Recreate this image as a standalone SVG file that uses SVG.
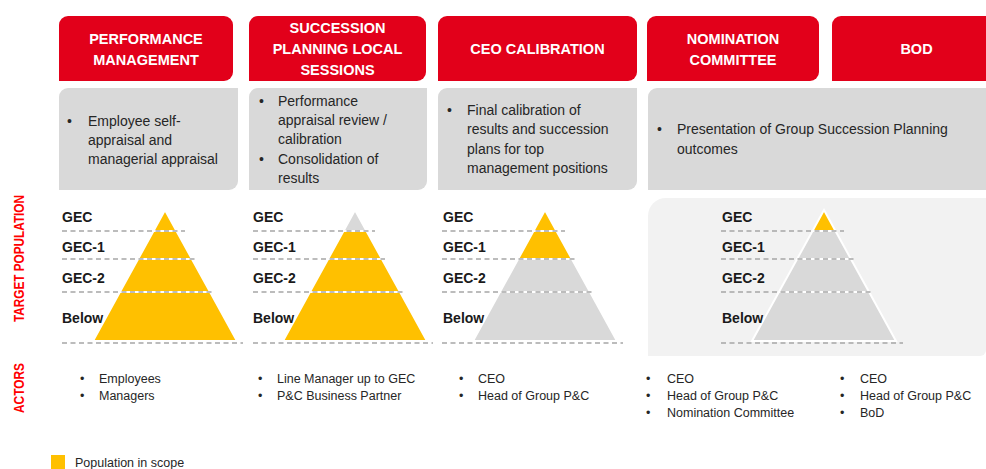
<svg xmlns="http://www.w3.org/2000/svg" xmlns:xlink="http://www.w3.org/1999/xlink" width="986" height="469" viewBox="0 0 986 469">
<style>
.hdr{fill:#E2001A}
.hdrt{font-family:"Liberation Sans",Arial,sans-serif;font-weight:bold;font-size:14.5px;fill:#fff;text-anchor:middle}
.box{fill:#D9D9D9}
.bt{font-family:"Liberation Sans",Arial,sans-serif;font-size:14px;fill:#262626}
.lvl{font-family:"Liberation Sans",Arial,sans-serif;font-weight:bold;font-size:14px;fill:#1a1a1a}
.act{font-family:"Liberation Sans",Arial,sans-serif;font-size:12.5px;fill:#262626}
.side{font-family:"Liberation Sans",Arial,sans-serif;font-weight:bold;font-size:14px;fill:#FF0000}
.y{fill:#FFC000;stroke:#fff;stroke-width:2}
.g{fill:#D9D9D9;stroke:#fff;stroke-width:2}
.dash{stroke:#A6A6A6;stroke-width:1.5;stroke-dasharray:5 3.5;fill:none}
</style>
<defs>
<polygon id="b1" points="0,210 11.5,231 -11.5,231"/>
<polygon id="b2" points="-11.5,231 11.5,231 26.9,259 -26.9,259"/>
<polygon id="b3" points="-26.9,259 26.9,259 45.1,292 -45.1,292"/>
<polygon id="b4" points="-45.1,292 45.1,292 72,341 -72,341"/>
</defs>

<g id="side-labels">
<text class="side" transform="translate(24,258.5) rotate(-90)" text-anchor="middle" textLength="127" lengthAdjust="spacingAndGlyphs">TARGET POPULATION</text>
<text class="side" transform="translate(24,388) rotate(-90)" text-anchor="middle" textLength="50" lengthAdjust="spacingAndGlyphs">ACTORS</text>
</g>

<g id="panel-nc-bod">
<path d="M648,216 A18,18 0 0 1 666,198 H986 V350 A6,6 0 0 1 980,356 H648 Z" fill="#F2F2F2"/>
</g>

<g id="col-performance-management">
<path class="hdr" d="M59,81 V25 A9,9 0 0 1 68,16 H224 A9,9 0 0 1 233,25 V72 A9,9 0 0 1 224,81 Z"/>
<text class="hdrt" x="146" y="44">PERFORMANCE</text>
<text class="hdrt" x="146" y="65">MANAGEMENT</text>
<path class="box" d="M59,97 A9,9 0 0 1 68,88 H238 V181 A9,9 0 0 1 229,190 H59 Z"/>
<text class="bt" x="67" y="126">•</text>
<text class="bt" x="88" y="126">Employee self-</text>
<text class="bt" x="88" y="145">appraisal and</text>
<text class="bt" x="88" y="164">managerial appraisal</text>
<use href="#b1" x="165" class="y"/>
<use href="#b2" x="165" class="y"/>
<use href="#b3" x="165" class="y"/>
<use href="#b4" x="165" class="y"/>
<text class="lvl" x="62" y="222">GEC</text>
<text class="lvl" x="62" y="252">GEC-1</text>
<text class="lvl" x="62" y="283">GEC-2</text>
<text class="lvl" x="62" y="323">Below</text>
<text class="act" x="80" y="383">•</text>
<text class="act" x="99" y="383">Employees</text>
<text class="act" x="80" y="400">•</text>
<text class="act" x="99" y="400">Managers</text>
</g>

<g id="col-succession-planning">
<path class="hdr" d="M249,81 V25 A9,9 0 0 1 258,16 H417 A9,9 0 0 1 426,25 V72 A9,9 0 0 1 417,81 Z"/>
<text class="hdrt" x="337.5" y="33">SUCCESSION</text>
<text class="hdrt" x="337.5" y="54">PLANNING LOCAL</text>
<text class="hdrt" x="337.5" y="75">SESSIONS</text>
<path class="box" d="M249,97 A9,9 0 0 1 258,88 H427 V181 A9,9 0 0 1 418,190 H249 Z"/>
<text class="bt" x="259" y="106">•</text>
<text class="bt" x="278" y="106">Performance</text>
<text class="bt" x="278" y="125">appraisal review /</text>
<text class="bt" x="278" y="144">calibration</text>
<text class="bt" x="259" y="164">•</text>
<text class="bt" x="278" y="164">Consolidation of</text>
<text class="bt" x="278" y="183">results</text>
<use href="#b1" x="355" class="g"/>
<use href="#b2" x="355" class="y"/>
<use href="#b3" x="355" class="y"/>
<use href="#b4" x="355" class="y"/>
<text class="lvl" x="253" y="222">GEC</text>
<text class="lvl" x="253" y="252">GEC-1</text>
<text class="lvl" x="253" y="283">GEC-2</text>
<text class="lvl" x="253" y="323">Below</text>
<text class="act" x="258" y="383">•</text>
<text class="act" x="277" y="383">Line Manager up to GEC</text>
<text class="act" x="258" y="400">•</text>
<text class="act" x="277" y="400">P&amp;C Business Partner</text>
</g>

<g id="col-ceo-calibration">
<path class="hdr" d="M438,81 V25 A9,9 0 0 1 447,16 H628 A9,9 0 0 1 637,25 V72 A9,9 0 0 1 628,81 Z"/>
<text class="hdrt" x="537.5" y="54">CEO CALIBRATION</text>
<path class="box" d="M438,97 A9,9 0 0 1 447,88 H637 V181 A9,9 0 0 1 628,190 H438 Z"/>
<text class="bt" x="447" y="115">•</text>
<text class="bt" x="467" y="115">Final calibration of</text>
<text class="bt" x="467" y="134">results and succession</text>
<text class="bt" x="467" y="154">plans for top</text>
<text class="bt" x="467" y="173">management positions</text>
<use href="#b1" x="545" class="y"/>
<use href="#b2" x="545" class="y"/>
<use href="#b3" x="545" class="g"/>
<use href="#b4" x="545" class="g"/>
<text class="lvl" x="443" y="222">GEC</text>
<text class="lvl" x="443" y="252">GEC-1</text>
<text class="lvl" x="443" y="283">GEC-2</text>
<text class="lvl" x="443" y="323">Below</text>
<text class="act" x="459" y="383">•</text>
<text class="act" x="478" y="383">CEO</text>
<text class="act" x="459" y="400">•</text>
<text class="act" x="478" y="400">Head of Group P&amp;C</text>
</g>

<g id="col-nomination-committee">
<path class="hdr" d="M647,81 V25 A9,9 0 0 1 656,16 H810 A9,9 0 0 1 819,25 V72 A9,9 0 0 1 810,81 Z"/>
<text class="hdrt" x="733" y="44">NOMINATION</text>
<text class="hdrt" x="733" y="65">COMMITTEE</text>
<text class="act" x="646" y="383">•</text>
<text class="act" x="667" y="383">CEO</text>
<text class="act" x="646" y="400">•</text>
<text class="act" x="667" y="400">Head of Group P&amp;C</text>
<text class="act" x="646" y="417">•</text>
<text class="act" x="667" y="417">Nomination Committee</text>
</g>

<g id="col-bod">
<path class="hdr" d="M832,81 V25 A9,9 0 0 1 841,16 H1001 V81 Z"/>
<text class="hdrt" x="916.5" y="54">BOD</text>
<text class="act" x="840" y="383">•</text>
<text class="act" x="860" y="383">CEO</text>
<text class="act" x="840" y="400">•</text>
<text class="act" x="860" y="400">Head of Group P&amp;C</text>
<text class="act" x="840" y="417">•</text>
<text class="act" x="860" y="417">BoD</text>
</g>

<g id="nc-bod-shared">
<path class="box" d="M648,97 A9,9 0 0 1 657,88 H1001 V190 H648 Z"/>
<text class="bt" x="657" y="134">•</text>
<text class="bt" x="677" y="134">Presentation of Group Succession Planning</text>
<text class="bt" x="677" y="154">outcomes</text>
<use href="#b1" x="824" class="y"/>
<use href="#b2" x="824" class="g"/>
<use href="#b3" x="824" class="g"/>
<use href="#b4" x="824" class="g"/>
<text class="lvl" x="722" y="222">GEC</text>
<text class="lvl" x="722" y="252">GEC-1</text>
<text class="lvl" x="722" y="283">GEC-2</text>
<text class="lvl" x="722" y="323">Below</text>
</g>

<g id="connectors">
<path class="dash" d="M62,231 H185 M62,259 H195 M62,292 H215 M62,343 H243"/>
<path class="dash" d="M253,231 H375 M253,259 H385 M253,292 H405 M253,343 H433"/>
<path class="dash" d="M442,231 H565 M442,259 H575 M442,292 H595 M442,343 H623"/>
<path class="dash" d="M721,231 H844 M721,259 H854 M721,292 H874 M721,343 H903"/>
</g>

<g id="legend">
<rect x="51" y="455" width="14" height="14" fill="#FFC000"/>
<text class="act" x="75" y="467" font-size="12">Population in scope</text>
</g>
</svg>
